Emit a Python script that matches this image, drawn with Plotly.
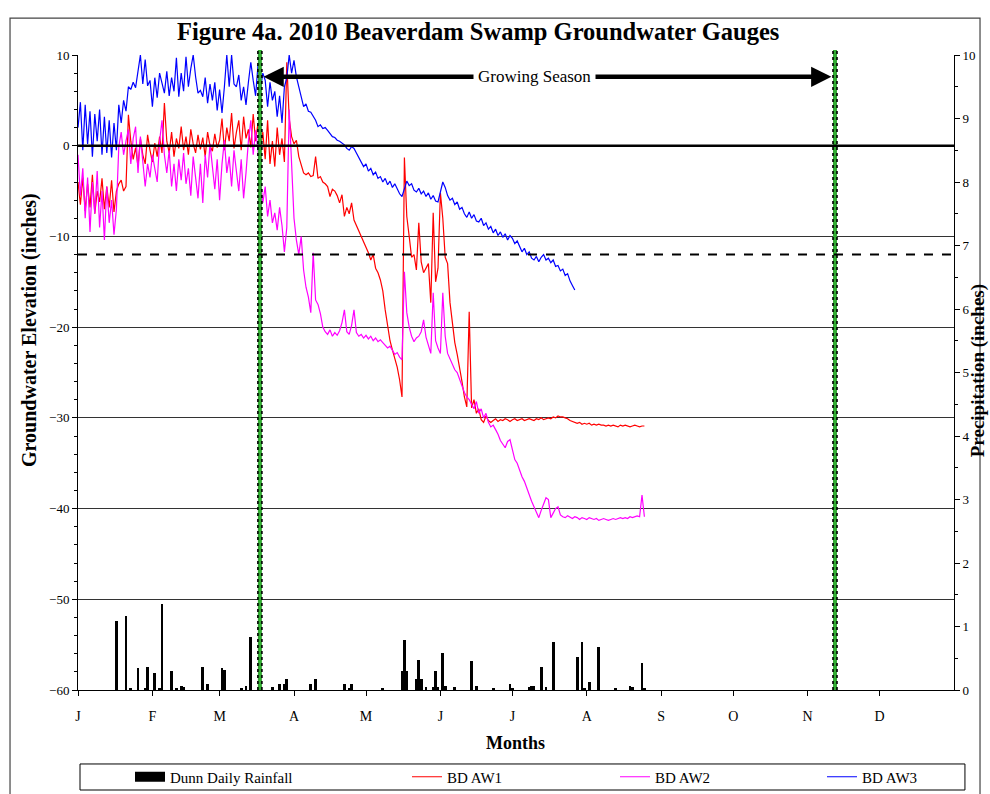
import pandas as pd
import plotly.graph_objects as go

# Dunn daily rainfall (inches)
rain_dates = ['2010-01-17', '2010-01-21', '2010-01-23', '2010-01-26', '2010-01-29', '2010-01-30',
              '2010-02-02', '2010-02-04', '2010-02-05', '2010-02-09', '2010-02-11', '2010-02-13',
              '2010-02-14', '2010-02-22', '2010-02-24', '2010-03-02', '2010-03-03', '2010-03-10',
              '2010-03-12', '2010-03-14', '2010-03-23', '2010-03-26', '2010-03-28', '2010-03-29',
              '2010-04-08', '2010-04-10', '2010-04-22', '2010-04-24', '2010-04-25', '2010-05-08',
              '2010-05-16', '2010-05-17', '2010-05-18', '2010-05-22', '2010-05-23', '2010-05-24',
              '2010-05-26', '2010-05-29', '2010-05-30', '2010-05-31', '2010-06-02', '2010-06-03',
              '2010-06-07', '2010-06-14', '2010-06-16', '2010-06-23', '2010-06-30', '2010-07-01',
              '2010-07-08', '2010-07-09', '2010-07-10', '2010-07-13', '2010-07-15', '2010-07-18',
              '2010-07-28', '2010-07-30', '2010-07-31', '2010-08-02', '2010-08-06', '2010-08-13',
              '2010-08-19', '2010-08-20', '2010-08-24', '2010-08-25']
rain = [1.08, 1.17, 0.03, 0.34, 0.03, 0.36,
        0.26, 0.03, 1.35, 0.30, 0.02, 0.07,
        0.04, 0.37, 0.09, 0.34, 0.31, 0.03,
        0.07, 0.84, 0.04, 0.09, 0.09, 0.18,
        0.09, 0.18, 0.09, 0.03, 0.09, 0.02,
        0.30, 0.79, 0.30, 0.18, 0.48, 0.18,
        0.05, 0.05, 0.30, 0.05, 0.58, 0.07,
        0.04, 0.45, 0.07, 0.02, 0.09, 0.02,
        0.04, 0.07, 0.07, 0.37, 0.05, 0.75,
        0.52, 0.75, 0.03, 0.13, 0.67, 0.03,
        0.06, 0.05, 0.43, 0.03]

# daily groundwater readings from 2010-01-01 (inches)
aw1 = [-4.0, -6.5, -3.5, -7.2, -4.2, -6.8, -3.2, -7.5, -5.0, -6.2, -3.6, -7.0, -4.5, -6.8, -3.8, -7.3, -5.0,
       -4.2, -3.8, -5.0, -4.5,
       3.4, 0.5, -1.5, -0.2, -2.3, 0.8, -1.0, -2.0, 1.2, -0.5, -1.8, 0.3, -1.2, 1.0, -0.8, 4.7,
       0.5, -0.8, 1.5, -1.2, 0.8, -0.3, 2.1, -0.5, 1.0, -1.0, 1.8, 0.2, -0.8, 1.2, -0.4, 0.9, -1.2, 1.5,
       0.0, -0.6, 1.3, -0.2, 0.6,
       3.0, -0.5, 2.0, 0.5, 3.6, -0.3, 1.5, 2.8, -0.5, 3.2, 0.8, 1.8, -0.2, 3.5, 0.5, 2.5, -0.5,
       1.5, -1.5, 2.8, -2.0, 0.5, -2.3, 2.0, -1.0, 0.8, -1.8, 9.2, 3.0, 1.0, 0.2,
       0.6, -1.2, -2.0, -3.0, -3.2, -3.0, -3.4, -3.3, -1.2, -3.6, -3.4, -4.0, -4.2, -4.5, -5.6, -4.8,
       -5.0, -5.5, -6.3, -5.4, -7.8, -6.8, -7.5, -6.3, -8.2, -8.8, -9.3,
       -10.0, -10.5, -11.2, -11.8, -12.6, -12.0, -13.5, -14.0, -14.8, -16.0, -18.1, -20.0, -21.5,
       -22.5, -23.5, -24.4, -25.8, -27.7,
       -1.3, -7.8, -10.0, -12.3, -12.0, -13.7, -8.5, -12.8, -14.0, -13.5, -13.0, -17.3, -7.4, -15.0,
       -13.5, -5.2, -8.0, -12.3, -13.0, -17.3, -19.5, -21.7, -23.0, -24.4, -26.0, -27.7, -28.8,
       -18.3, -28.9, -28.0, -29.5, -29.0, -30.2, -30.5, -29.8, -30.3, -30.5,
       -30.3, -30.1, -30.4, -30.2, -30.3, -30.1, -30.2, -30.4, -30.2, -30.1, -30.3, -30.2, -30.1, -30.3,
       -30.2, -30.1, -30.2, -30.3, -30.1, -30.2, -30.0, -30.2, -30.1, -30.0, -30.1, -29.9, -30.0, -29.8,
       -29.9, -29.9,
       -30.0, -30.1, -30.3, -30.4, -30.5, -30.6, -30.5, -30.7, -30.6, -30.7, -30.6, -30.8, -30.7, -30.8,
       -30.7, -30.8, -30.8, -30.9, -30.8, -30.9, -30.8, -30.9, -31.0, -30.8, -30.9, -30.8, -30.9, -31.0,
       -30.9, -30.8, -30.9, -31.0, -30.9, -30.9]

aw2 = [-1.0, -5.5, -2.5, -8.0, -3.5, -9.5, -4.0, -7.5, -2.8, -9.0, -5.0, -10.4, -4.5, -8.5, -6.0, -9.8, -7.0,
       -0.1, 1.5, -1.0, 0.5, 1.8, -2.0, 0.8, 2.1, -3.0, 1.0, -1.5, -4.5, -2.0, -3.5, -1.0,
       -2.5, -4.0, 0.5, 2.8, -1.0, -3.0, -0.5, -4.5, -2.0, -5.0, -1.5, -3.8, -0.8, -4.2, -2.5, -5.5,
       -1.2, -3.5, -5.8, -2.0, -6.3,
       -1.0, -3.5, 0.2, -2.5, -4.8, -1.5, -6.0, -2.0, 0.6, -3.0, -1.2, -4.5, -0.5, -2.8, -5.0, -1.5,
       -5.8, -3.0,
       0.5, 2.8, -1.0, 1.7, -0.5,
       -3.5, -6.3, -4.5, -7.8, -6.0, -8.5, -7.4, -9.3, -6.8, -8.8, -11.7, -9.0, 4.0, -2.0, -8.0,
       -10.4, -12.0, -10.0, -13.7, -15.6, -16.7, -18.4, -11.8, -17.0, -17.5, -18.5,
       -20.0, -20.5, -20.8, -20.3, -21.0, -20.6, -20.9, -20.4, -19.5, -18.1, -20.5, -20.8, -19.8, -18.1,
       -20.6, -21.0, -20.8, -21.2, -20.9, -21.3, -21.0, -21.5, -21.2, -21.6, -21.4, -21.7, -22.0, -22.3,
       -22.1, -22.6, -23.0, -22.8, -23.3, -23.6,
       -13.9, -18.4, -20.0, -21.0, -21.6, -21.2, -21.0, -20.5, -19.2, -21.1, -22.0, -22.9, -16.2, -21.5,
       -22.3, -22.9, -16.2, -21.0, -22.9, -23.5, -24.0, -24.7, -25.0, -25.8, -26.5, -27.2, -27.7, -28.0,
       -28.5, -29.0, -28.2, -29.5, -29.0, -30.0, -29.5, -30.5, -31.0, -30.8, -31.3, -31.8, -32.5, -32.9,
       -33.3, -32.6, -32.4, -33.5, -34.6, -35.0, -35.8, -36.5, -37.0, -37.8, -38.5, -39.2, -39.8, -40.5,
       -41.0, -40.2, -39.5, -38.8, -39.0, -41.0, -40.5, -40.0, -39.8, -40.7, -40.9, -41.0, -40.8, -41.0,
       -41.1, -40.9, -41.0, -41.2, -41.0, -41.1, -41.2, -41.0, -41.1, -41.2, -41.1, -41.3, -41.2, -41.1,
       -41.2, -41.3, -41.2, -41.1, -41.2, -41.1, -41.0, -41.1, -41.0, -41.1, -40.9, -41.0, -40.9, -40.8,
       -40.9, -38.5, -40.9]

aw3 = [2.0, 4.8, -0.5, 4.5, 0.2, 3.8, -1.2, 3.5, 0.5, 4.0, -1.0, 3.2, -0.8, 2.8, -1.3, 2.5, -0.5,
       4.5, 2.5, 5.0, 3.8, 6.5, 6.2, 7.0, 6.4, 8.5, 10.0, 6.8, 9.5, 6.6, 7.2,
       4.3, 7.5, 5.3, 8.0, 6.9, 5.8, 8.2, 5.5, 7.5, 6.0,
       9.7, 5.4, 8.0, 6.0, 9.8, 6.5, 8.5, 10.0, 7.6, 5.8,
       6.1, 5.4, 7.5, 4.7, 6.8, 5.0, 7.0, 3.9, 6.2, 3.6, 6.5,
       10.0, 6.5, 10.0, 6.8, 6.5, 7.8, 5.0, 6.5, 4.5, 7.0, 9.2, 7.2, 5.5, 8.9,
       6.1, 8.0, 7.2, 4.3, 7.0, 5.0, 6.0, 3.2, 5.5, 2.5, 6.5, 7.5, 10.0, 8.0, 9.4, 7.6, 6.5, 5.2,
       4.3, 4.6, 3.8, 3.7, 3.2, 2.8, 2.1, 2.3, 1.9, 2.0, 1.7, 1.3, 1.0, 0.9, 0.6, 0.5, 0.3, 0.1,
       -0.3, -0.5, -0.1, -0.3, -0.8, -1.3,
       -1.8, -2.3, -2.0, -2.8, -2.5, -3.2, -2.9, -3.6, -3.4,
       -4.0, -3.6, -4.3, -3.9, -4.6, -4.2, -4.8, -5.3, -5.6, -4.6, -3.9,
       -4.4, -4.2, -4.9, -5.1, -4.7, -5.3, -5.0, -5.6, -5.2, -5.9, -5.5, -6.1, -6.2, -5.0, -4.0,
       -4.6, -5.5, -6.0, -5.8, -6.5, -6.2, -7.0, -6.8, -7.5, -7.9, -7.3, -8.0, -7.6, -8.3, -8.4, -8.0,
       -8.8, -8.5,
       -9.2, -8.9, -9.6, -9.2, -9.9, -9.5, -10.1, -9.7, -10.4, -9.9, -10.2, -10.8, -10.5, -11.2, -11.7,
       -11.3, -12.0, -11.7, -12.4, -12.6,
       -12.2, -12.8, -12.3, -12.0, -12.6, -12.4, -12.9, -12.6, -13.3, -13.2, -13.8, -13.6, -14.3, -14.1,
       -14.9, -15.4, -15.9]

month_ticks = ['2010-01-01', '2010-02-01', '2010-03-01', '2010-04-01', '2010-05-01', '2010-06-01',
               '2010-07-01', '2010-08-01', '2010-09-01', '2010-10-01', '2010-11-01', '2010-12-01']
month_labels = ['J', 'F', 'M', 'A', 'M', 'J', 'J', 'A', 'S', 'O', 'N', 'D']

season_start = pd.Timestamp('2010-03-17 19:00')
season_end = pd.Timestamp('2010-11-12 10:00')

FONT = 'Liberation Serif'

fig = go.Figure()

fig.add_trace(go.Bar(x=rain_dates, y=rain, name='Dunn Daily Rainfall', yaxis='y2', showlegend=False,
                     marker=dict(color='black', line=dict(width=0)), width=1.15 * 86400000))
# legend-only entry so the rainfall key is drawn as a wide black block
fig.add_trace(go.Scatter(x=[None], y=[None], name='Dunn Daily Rainfall', mode='lines',
                         line=dict(color='black', width=12), legend='legend'))

days = lambda n: pd.date_range('2010-01-01', periods=n, freq='D')
fig.add_trace(go.Scatter(x=days(len(aw1)), y=aw1, name='BD AW1', mode='lines',
                         line=dict(color='#ff0000', width=1.2), legend='legend2'))
fig.add_trace(go.Scatter(x=days(len(aw2)), y=aw2, name='BD AW2', mode='lines',
                         line=dict(color='#ff00ff', width=1.2), legend='legend3'))
fig.add_trace(go.Scatter(x=days(len(aw3)), y=aw3, name='BD AW3', mode='lines',
                         line=dict(color='#0000ff', width=1.2), legend='legend4'))

shapes = []
# growing season boundaries
for d in [season_start, season_end]:
    shapes.append(dict(type='line', xref='x', yref='paper', x0=d, x1=d, y0=0, y1=1.008,
                       line=dict(color='#33aa33', width=4), layer='above'))
    for off in [-20, 20]:
        xx = d + pd.Timedelta(hours=off)
        shapes.append(dict(type='line', xref='x', yref='paper', x0=xx, x1=xx, y0=0, y1=1.008,
                           line=dict(color='black', width=1.6, dash='dot'), layer='above'))
# zero line and dashed line at -12
shapes.append(dict(type='line', xref='paper', yref='y', x0=0, x1=1, y0=0, y1=0,
                   line=dict(color='black', width=2.5), layer='above'))
shapes.append(dict(type='line', xref='paper', yref='y', x0=0, x1=1, y0=-12, y1=-12,
                   line=dict(color='black', width=2, dash='dash'), layer='above'))
# outer frame
shapes.append(dict(type='rect', xref='paper', yref='paper', x0=-0.0776, x1=1.0297, y0=-0.2, y1=1.058,
                   line=dict(color='#444', width=1.2), layer='below'))
# legend box
shapes.append(dict(type='rect', xref='paper', yref='paper', x0=0.0023, x1=1.0125, y0=-0.1575, y1=-0.1165,
                   line=dict(color='black', width=1), layer='below'))

mid = pd.Timestamp('2010-07-10')
annotations = [
    dict(x=season_start + pd.Timedelta(days=1.5), y=7.6, ax=mid, ay=7.6, xref='x', yref='y',
         axref='x', ayref='y', text='', showarrow=True, arrowhead=2, arrowsize=0.9,
         arrowwidth=4.5, arrowcolor='black'),
    dict(x=season_end - pd.Timedelta(days=1.5), y=7.6, ax=mid, ay=7.6, xref='x', yref='y',
         axref='x', ayref='y', text='', showarrow=True, arrowhead=2, arrowsize=0.9,
         arrowwidth=4.5, arrowcolor='black'),
    dict(x=mid, y=7.6, xref='x', yref='y', text='Growing Season', showarrow=False,
         bgcolor='white', borderpad=4, font=dict(family=FONT, size=17, color='black')),
    dict(x=0.499, y=-0.0835, xref='paper', yref='paper', text='<b>Months</b>', showarrow=False,
         xanchor='center', yanchor='middle', font=dict(family=FONT, size=18, color='black')),
    dict(x=-0.0548, y=0.567, xref='paper', yref='paper', text='<b>Groundwater Elevation (inches)</b>',
         textangle=-90, showarrow=False, xanchor='center', yanchor='middle',
         font=dict(family=FONT, size=20, color='black')),
    dict(x=1.0274, y=0.502, xref='paper', yref='paper', text='<b>Precipitation (inches)</b>',
         textangle=-90, showarrow=False, xanchor='center', yanchor='middle',
         font=dict(family=FONT, size=19, color='black')),
]

legend_common = dict(orientation='h', xanchor='left', yref='container', y=0.0214, yanchor='middle',
                     xref='container', bgcolor='rgba(0,0,0,0)', borderwidth=0,
                     font=dict(family=FONT, size=15), traceorder='normal')

fig.update_layout(
    width=990, height=794,
    margin=dict(l=78, r=36, t=55, b=104),
    paper_bgcolor='white', plot_bgcolor='white',
    font=dict(family=FONT, size=13, color='black'),
    title=dict(text='<b>Figure 4a. 2010 Beaverdam Swamp Groundwater Gauges</b>',
               x=0.483, xanchor='center', y=0.96, yanchor='middle',
               font=dict(family=FONT, size=24.5, color='black')),
    xaxis=dict(type='date', range=['2010-01-01', '2011-01-01'], tickvals=month_ticks,
               ticktext=month_labels, ticks='outside', ticklen=5, tickcolor='black',
               showline=True, linecolor='black', linewidth=1, showgrid=False, zeroline=False,
               ticklabelstandoff=8, tickfont=dict(family=FONT, size=14)),
    yaxis=dict(range=[-60, 10], dtick=10, tick0=0, ticks='outside', ticklen=5, tickcolor='black',
               showline=True, linecolor='black', linewidth=1, mirror=False,
               showgrid=True, gridcolor='#333', gridwidth=1, zeroline=False,
               minor=dict(dtick=2, ticks='outside', ticklen=3, tickcolor='black', showgrid=False),
               tickfont=dict(family=FONT, size=13)),
    yaxis2=dict(range=[0, 10], dtick=1, overlaying='y', side='right', ticks='outside', ticklen=5,
                tickcolor='black', showline=True, linecolor='black', linewidth=1, showgrid=False,
                zeroline=False,
                minor=dict(dtick=0.5, ticks='outside', ticklen=3, tickcolor='black'),
                tickfont=dict(family=FONT, size=13)),
    showlegend=True,
    legend=dict(x=130 / 990, **legend_common),
    legend2=dict(x=407 / 990, **legend_common),
    legend3=dict(x=615 / 990, **legend_common),
    legend4=dict(x=822 / 990, **legend_common),
    bargap=0,
    shapes=shapes,
    annotations=annotations,
)

fig.write_html("out.html", config={'displayModeBar': False},
               post_script="document.body.style.margin='0px';")
